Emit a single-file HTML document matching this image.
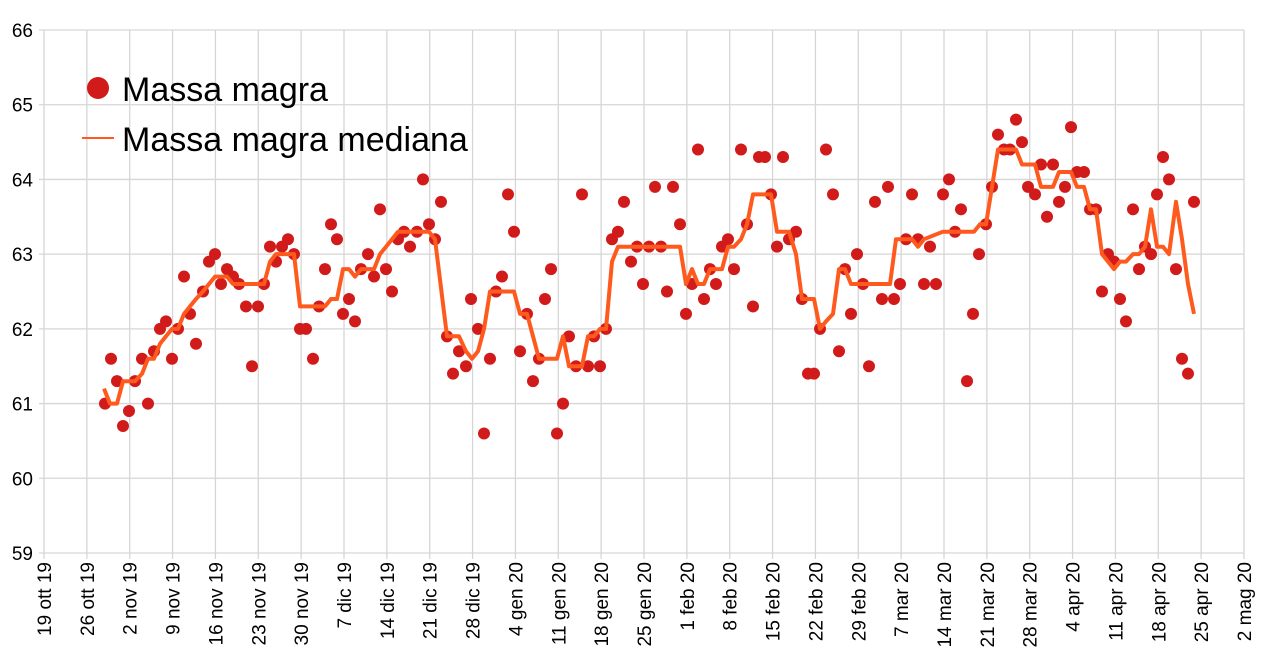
<!DOCTYPE html>
<html><head><meta charset="utf-8"><style>
html,body{margin:0;padding:0;background:#fff}
svg{display:block}
text{font-family:"Liberation Sans",Arial,sans-serif;fill:#000}
</style></head><body>
<svg id="s" width="1270" height="664" xmlns="http://www.w3.org/2000/svg"></svg>
<script>
const s=document.getElementById('s');
const NS='http://www.w3.org/2000/svg';
function el(t,a,txt){const e=document.createElementNS(NS,t);for(const k in a)e.setAttribute(k,a[k]);if(txt!==undefined)e.textContent=txt;s.appendChild(e);return e;}
const L=44,R=1244,T=30,B=553;
const Y=v=>T+(66-v)*(B-T)/7;
for(let i=0;i<=28;i++){const x=L+i*(R-L)/28;el('line',{x1:x,y1:T,x2:x,y2:B+6,stroke:'#d6d6d6','stroke-width':1.3});}
for(let v=59;v<=66;v++){const y=Y(v);el('line',{x1:L-5,y1:y,x2:R,y2:y,stroke:'#d6d6d6','stroke-width':1.3});el('text',{x:33,y:y+7,'text-anchor':'end','font-size':19},v);}
const labs=["19 ott 19","26 ott 19","2 nov 19","9 nov 19","16 nov 19","23 nov 19","30 nov 19","7 dic 19","14 dic 19","21 dic 19","28 dic 19","4 gen 20","11 gen 20","18 gen 20","25 gen 20","1 feb 20","8 feb 20","15 feb 20","22 feb 20","29 feb 20","7 mar 20","14 mar 20","21 mar 20","28 mar 20","4 apr 20","11 apr 20","18 apr 20","25 apr 20","2 mag 20"];
labs.forEach((t,i)=>{const x=L+i*(R-L)/28+7;el('text',{x:0,y:0,'text-anchor':'end','font-size':19,transform:`translate(${x},562) rotate(-90)`},t);});
const d=[[105,61.0],[111,61.6],[117,61.3],[123,60.7],[129,60.9],[135,61.3],[142,61.6],[148,61.0],[154,61.7],[160,62.0],[166,62.1],[172,61.6],[178,62.0],[184,62.7],[190,62.2],[196,61.8],[203,62.5],[209,62.9],[215,63.0],[221,62.6],[227,62.8],[233,62.7],[239,62.6],[246,62.3],[252,61.5],[258,62.3],[264,62.6],[270,63.1],[276,62.9],[282,63.1],[288,63.2],[294,63.0],[300,62.0],[306,62.0],[313,61.6],[319,62.3],[325,62.8],[331,63.4],[337,63.2],[343,62.2],[349,62.4],[355,62.1],[361,62.8],[368,63.0],[374,62.7],[380,63.6],[386,62.8],[392,62.5],[398,63.2],[404,63.3],[410,63.1],[417,63.3],[423,64.0],[429,63.4],[435,63.2],[441,63.7],[447,61.9],[453,61.4],[459,61.7],[466,61.5],[471,62.4],[478,62.0],[484,60.6],[490,61.6],[496,62.5],[502,62.7],[508,63.8],[514,63.3],[520,61.7],[527,62.2],[533,61.3],[539,61.6],[545,62.4],[551,62.8],[557,60.6],[563,61.0],[569,61.9],[576,61.5],[582,63.8],[588,61.5],[594,61.9],[600,61.5],[606,62.0],[612,63.2],[618,63.3],[624,63.7],[631,62.9],[637,63.1],[643,62.6],[649,63.1],[655,63.9],[661,63.1],[667,62.5],[673,63.9],[680,63.4],[686,62.2],[692,62.6],[698,64.4],[704,62.4],[710,62.8],[716,62.6],[722,63.1],[728,63.2],[734,62.8],[741,64.4],[747,63.4],[753,62.3],[759,64.3],[765,64.3],[771,63.8],[777,63.1],[783,64.3],[789,63.2],[796,63.3],[802,62.4],[808,61.4],[814,61.4],[820,62.0],[826,64.4],[833,63.8],[839,61.7],[845,62.8],[851,62.2],[857,63.0],[863,62.6],[869,61.5],[875,63.7],[882,62.4],[888,63.9],[894,62.4],[900,62.6],[906,63.2],[912,63.8],[918,63.2],[924,62.6],[930,63.1],[936,62.6],[943,63.8],[949,64.0],[955,63.3],[961,63.6],[967,61.3],[973,62.2],[979,63.0],[986,63.4],[992,63.9],[998,64.6],[1004,64.4],[1010,64.4],[1016,64.8],[1022,64.5],[1028,63.9],[1035,63.8],[1041,64.2],[1047,63.5],[1053,64.2],[1059,63.7],[1065,63.9],[1071,64.7],[1077,64.1],[1084,64.1],[1090,63.6],[1096,63.6],[1102,62.5],[1108,63.0],[1114,62.9],[1120,62.4],[1126,62.1],[1133,63.6],[1139,62.8],[1145,63.1],[1151,63.0],[1157,63.8],[1163,64.3],[1169,64.0],[1176,62.8],[1182,61.6],[1188,61.4],[1194,63.7]];
d.forEach(p=>el('circle',{cx:p[0],cy:Y(p[1]),r:6,fill:'#d11a1a'}));
const m=[[104,61.2],[110,61.0],[117,61.0],[123,61.3],[135,61.3],[142,61.4],[148,61.6],[154,61.6],[160,61.8],[166,61.9],[172,62.0],[178,62.0],[184,62.2],[190,62.3],[196,62.4],[203,62.5],[209,62.6],[215,62.7],[227,62.7],[233,62.6],[264,62.6],[270,62.9],[276,63.0],[294,63.0],[300,62.3],[325,62.3],[331,62.4],[337,62.4],[343,62.8],[349,62.8],[355,62.7],[361,62.8],[374,62.8],[380,63.0],[386,63.1],[392,63.2],[398,63.3],[429,63.3],[435,63.2],[447,61.9],[459,61.9],[466,61.7],[472,61.6],[478,61.7],[484,62.0],[490,62.5],[508,62.5],[514,62.5],[520,62.2],[527,62.2],[533,61.9],[539,61.6],[557,61.6],[563,61.9],[569,61.5],[582,61.5],[588,61.9],[594,61.9],[600,62.0],[606,62.0],[612,62.9],[618,63.1],[680,63.1],[686,62.6],[692,62.8],[698,62.6],[704,62.6],[710,62.8],[722,62.8],[728,63.1],[734,63.1],[741,63.2],[747,63.4],[753,63.8],[771,63.8],[777,63.3],[789,63.3],[796,63.0],[802,62.4],[814,62.4],[820,62.0],[826,62.1],[833,62.2],[839,62.8],[845,62.8],[851,62.6],[890,62.6],[896,63.2],[912,63.2],[918,63.1],[924,63.2],[943,63.3],[974,63.3],[980,63.4],[986,63.4],[992,63.9],[998,64.4],[1016,64.4],[1022,64.2],[1035,64.2],[1041,63.9],[1053,63.9],[1059,64.1],[1071,64.1],[1077,63.9],[1084,63.9],[1090,63.6],[1096,63.6],[1102,63.0],[1108,62.9],[1114,62.8],[1120,62.9],[1126,62.9],[1133,63.0],[1139,63.0],[1145,63.1],[1151,63.6],[1157,63.1],[1163,63.1],[1169,63.0],[1176,63.7],[1182,63.2],[1188,62.6],[1194,62.2]];
el('polyline',{points:m.map(p=>p[0]+','+Y(p[1]).toFixed(1)).join(' '),fill:'none',stroke:'#ff5a1e','stroke-width':4,'stroke-linejoin':'round'});
el('circle',{cx:98,cy:88,r:11,fill:'#d11a1a'});
el('text',{x:122,y:101,'font-size':34},'Massa magra');
el('line',{x1:82,y1:138,x2:114,y2:138,stroke:'#ff5a1e','stroke-width':2});
el('text',{x:122,y:151,'font-size':34},'Massa magra mediana');
</script>
</body></html>
